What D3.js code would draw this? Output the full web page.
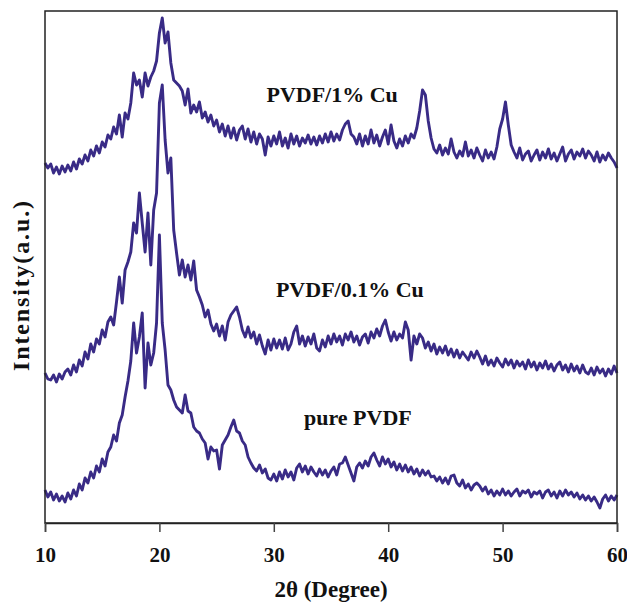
<!DOCTYPE html>
<html>
<head>
<meta charset="utf-8">
<script src="https://cdn.jsdelivr.net/npm/d3@7"></script>
<style>
  body { margin: 0; background: #fff; }
  svg text { font-family: "Liberation Serif", "Times New Roman", serif; font-weight: bold; fill: #111; }
</style>
</head>
<body>
<svg id="chart" width="627" height="602"></svg>
<script>
// scan: 10 to 60 degrees, 0.25 degree step
const scanStart = 10, scanStep = 0.25;
const xTicks = [10, 20, 30, 40, 50, 60];

// intensities (a.u., already stacked), one row per two degrees
const pvdf1Cu = [
  360,355,359,350, 356,349,357,351,
  358,352,361,354, 364,359,368,362,
  373,367,377,370, 381,376,388,384,
  396,389,408,386, 410,404,420,450,
  438,443,426,450, 437,446,452,462,
  490,505,480,491, 460,443,440,437,
  432,418,434,410, 418,411,421,405,
  411,401,408,397, 403,391,399,387,
  397,385,395,383, 393,397,384,394,
  381,391,379,389, 384,368,386,377,
  387,379,391,377, 385,375,389,379,
  387,377,385,380, 388,379,386,378,
  387,380,389,381, 391,382,389,383,
  393,399,402,389, 386,379,389,377,
  387,379,393,380, 388,377,386,393,
  379,398,382,375, 384,377,387,380,
  389,385,395,412, 433,428,402,385,
  374,370,378,368, 375,369,384,371,
  365,372,367,381, 367,373,365,375,
  368,362,373,365, 371,364,376,394,
  404,421,398,378, 371,365,375,363,
  369,372,362,368, 373,363,371,365,
  374,364,370,362, 369,376,362,369,
  373,364,371,367, 374,365,372,368,
  362,371,361,368, 363,370,365,361,
  355
];

const pvdf01Cu = [
  150,144,143,148, 141,149,144,151,
  154,148,158,151, 163,157,171,164,
  179,171,184,179, 193,186,201,206,
  198,221,246,220, 253,261,271,300,
  290,330,300,271, 310,258,313,330,
  420,438,383,350, 365,293,270,248,
  263,246,258,243, 262,233,226,218,
  206,213,199,192, 199,187,197,183,
  201,208,212,216, 206,193,186,196,
  185,191,179,188, 177,169,183,173,
  184,175,183,174, 185,173,179,191,
  197,179,187,177, 186,179,189,175,
  172,183,176,187, 179,189,181,187,
  178,189,183,191, 181,187,178,186,
  189,180,191,185, 194,187,197,203,
  191,182,191,183, 189,185,201,193,
  163,187,179,189, 185,175,181,172,
  179,169,176,170, 177,168,174,166,
  173,165,171,167, 163,171,165,172,
  166,159,167,158, 163,157,165,160,
  156,164,158,163, 155,162,157,161,
  154,163,156,161, 153,160,155,162,
  154,159,152,158, 161,153,158,151,
  159,152,157,150, 158,151,149,155,
  148,156,150,154, 147,154,149,157,
  150
];

const purePVDF = [
  33,26,31,23, 29,22,27,21,
  30,24,33,27, 39,33,45,40,
  51,45,57,51, 64,57,71,76,
  88,82,100,108, 126,142,162,200,
  170,186,210,135, 180,158,170,200,
  288,200,173,138, 133,123,116,113,
  110,128,112,110, 96,92,90,84,
  80,64,76,72, 73,54,78,83,
  88,96,103,92, 90,82,78,66,
  60,55,52,58, 50,54,45,43,
  49,42,51,44, 53,46,51,43,
  55,59,51,57, 49,56,51,47,
  54,48,53,46, 52,56,48,59,
  60,66,58,50, 42,56,60,55,
  62,57,66,70, 63,57,66,59,
  64,56,61,53, 59,52,58,51,
  56,49,54,47, 53,48,52,46,
  47,42,46,40, 45,39,47,48,
  40,37,43,35, 39,33,38,40,
  37,32,36,29, 33,27,32,28,
  34,28,32,27, 31,34,27,32,
  30,33,26,31, 29,32,25,31,
  33,27,31,25, 32,27,33,28,
  31,26,30,24, 28,23,27,22,
  26,21,15,24, 28,22,27,23,
  28
];

const seriesNames = ["PVDF/1% Cu", "PVDF/0.1% Cu", "pure PVDF"];

const svg = d3.select("#chart");
const margin = {top: 11, right: 10, bottom: 79, left: 45};
const width = 627 - margin.left - margin.right;
const height = 602 - margin.top - margin.bottom;

const g = svg.append("g").attr("transform", `translate(${margin.left},${margin.top})`);

const x = d3.scaleLinear().domain([10, 60]).range([0, width]);
const y = d3.scaleLinear().domain([0, 512]).range([height, 0]);

const line = d3.line()
    .x((d, i) => x(scanStart + i * scanStep))
    .y(d => y(d));

const lineColor = "#392b86";
[pvdf1Cu, pvdf01Cu, purePVDF].forEach(s => {
    g.append("path")
        .datum(s)
        .attr("fill", "none")
        .attr("stroke", lineColor)
        .attr("stroke-width", 2.9)
        .attr("stroke-linejoin", "round")
        .attr("d", line);
});

// frame
g.append("rect")
    .attr("width", width).attr("height", height)
    .attr("fill", "none").attr("stroke", "#222").attr("stroke-width", 1.5);

let xaxis = g.append("g")
    .attr("transform", `translate(0,${height})`)
    .call(d3.axisBottom(x).tickValues(xTicks).tickSize(9).tickPadding(15).tickFormat(d3.format("d")));
xaxis.select(".domain").attr("stroke", "#222").attr("stroke-width", 1.5);
xaxis.selectAll(".tick line").attr("stroke", "#444").attr("stroke-width", 1.5);
xaxis.selectAll("text").attr("font-size", 21).attr("font-family", null).attr("fill", "#111");

// labels on the curves
const labelPos = [[35.1, 421], [36.65, 226], [37.35, 98]];
seriesNames.forEach((name, i) => {
    g.append("text")
        .attr("x", x(labelPos[i][0]))
        .attr("y", y(labelPos[i][1]))
        .attr("text-anchor", "middle")
        .attr("font-size", 22)
        .text(name);
});

svg.append("text")
    .attr("x", margin.left + width / 2)
    .attr("y", 597)
    .attr("text-anchor", "middle")
    .attr("font-size", 23)
    .text("2θ (Degree)");

svg.append("text")
    .attr("transform", "translate(29,286) rotate(-90)")
    .attr("text-anchor", "middle")
    .attr("font-size", 24)
    .attr("textLength", 170)
    .attr("lengthAdjust", "spacing")
    .text("Intensity(a.u.)");
</script>
</body>
</html>
